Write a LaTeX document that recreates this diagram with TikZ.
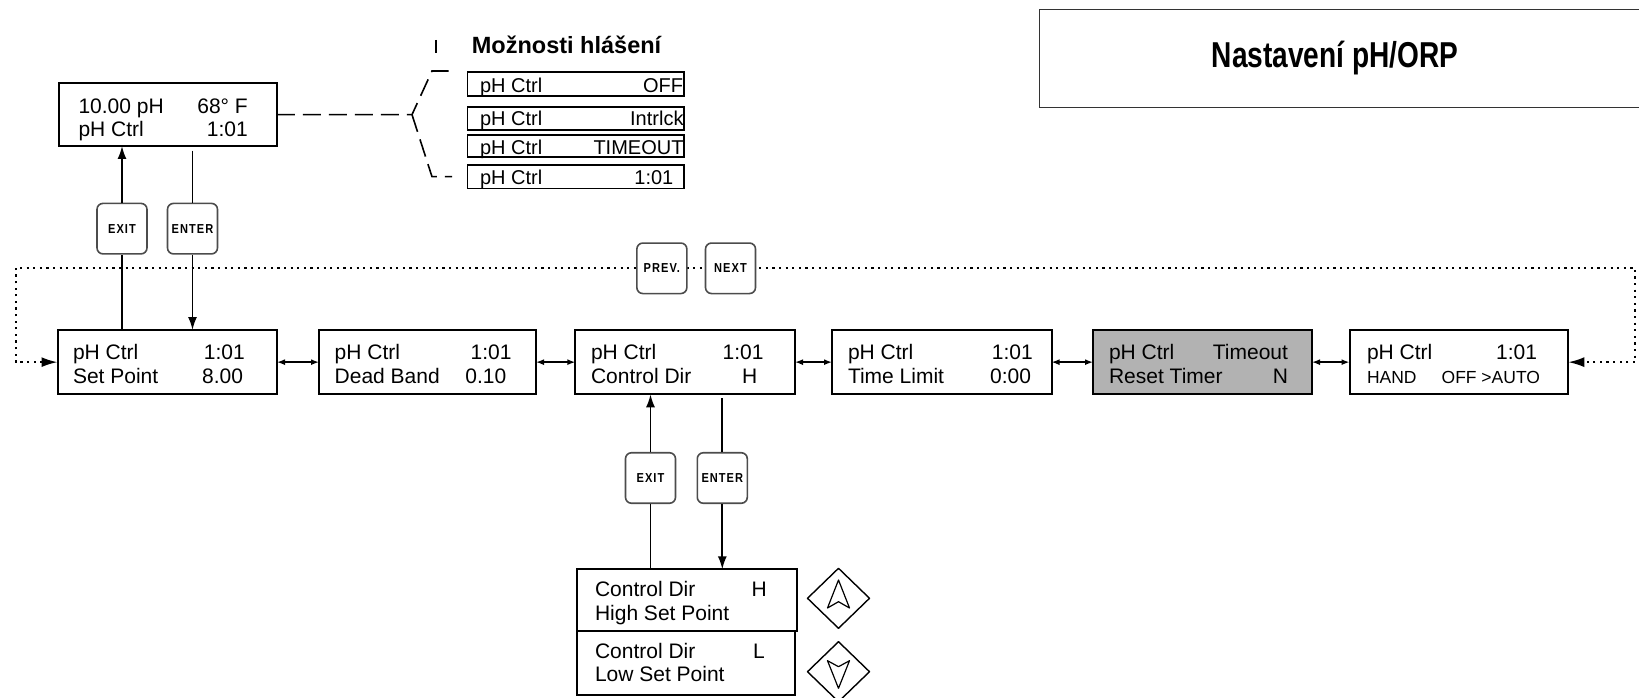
\documentclass[tikz,border=0pt]{standalone}
\usepackage{fontspec}
\setmainfont{Liberation Sans}
\newfontfamily\btnfam[LetterSpace=8,FakeStretch=0.85]{Liberation Sans}
\newfontfamily\titlefam[FakeStretch=0.78]{Liberation Sans}
\usetikzlibrary{arrows.meta}
\newcommand\btnfont{\btnfam\bfseries\fontsize{13}{13}\selectfont}
\newcommand\lcdfont{\fontsize{21}{24}\selectfont}
\newcommand\msgfont{\fontsize{20}{22}\selectfont}
\newcommand\smallfont{\fontsize{17.5}{20}\selectfont}
\definecolor{boxgray}{RGB}{178,178,178}
\begin{document}
\begin{tikzpicture}[x=1pt,y=-1pt,
  lcd/.style={draw=black, line width=2pt, inner sep=0pt, outer sep=0pt, minimum height=64.3pt},
  msgbox/.style={draw=black, line width=1.6pt, inner sep=0pt, outer sep=0pt, minimum width=216.7pt},
  btn/.style={draw=black!70, line width=1.6pt, rounded corners=6pt, fill=white, minimum width=50pt, minimum height=50.5pt, inner sep=0pt, font=\btnfont},
  txt/.style={inner sep=0pt, outer sep=0pt, font=\lcdfont, anchor=base west},
  txtr/.style={txt, anchor=base east},
  mtxt/.style={inner sep=0pt, outer sep=0pt, font=\msgfont, anchor=base west},
  mtxtr/.style={mtxt, anchor=base east},
  conn/.style={line width=1.7pt},
  arr/.style={conn, -{Latex[length=13pt,width=9pt]}},
  dbl/.style={line width=1.5pt, {Latex[length=8pt,width=6pt]}-{Latex[length=8pt,width=6pt]}},
  loopline/.style={line width=1.8pt, dash pattern=on 2.2pt off 4.4pt, {Latex[length=16pt,width=10pt]}-{Latex[length=16pt,width=10pt]}},
  dashline/.style={line width=1.6pt, dash pattern=on 18pt off 8pt},
  keyshape/.style={line width=1.4pt, line join=round}
]
\useasboundingbox (0,0) rectangle (1639,698);

% title
\node[draw=black!80, line width=1.5pt, minimum width=602.5pt, minimum height=98.4pt, inner sep=0pt] (title) at (1340.75,58.5) {};
\node[inner sep=0pt, font=\titlefam\bfseries\fontsize{36}{40}\selectfont] (titletext) at (1335,58) {Nastavení pH/ORP};

% top-left display
\node[lcd, minimum width=217.5pt, minimum height=62.7pt] (top) at (168,114.65) {};
\node[txt] (top1a) at (78.5,114) {10.00 pH};
\node[txtr] (top1b) at (247.8,114) {68° F};
\node[txt] (top2a) at (78.5,137) {pH Ctrl};
\node[txtr] (top2b) at (247.8,137) {1:01};

% message options
\draw[line width=1.3pt] (436,40) -- (436,53.3);
\node[anchor=base west, inner sep=0pt, font=\bfseries\fontsize{23.5}{26}\selectfont] (msgtitle) at (471.7,53.3) {Možnosti hlášení};
\node[msgbox, minimum height=23.7pt] (m1) at (575.65,84.15) {};
\node[msgbox, minimum height=22.7pt] (m2) at (575.65,118.65) {};
\node[msgbox, minimum height=22.3pt] (m3) at (575.65,146.15) {};
\node[msgbox, minimum height=23.3pt] (m4) at (575.65,176.65) {};
\node[mtxt] (m1a) at (480,92.7) {pH Ctrl};
\node[mtxtr] (m1b) at (683,92.7) {OFF};
\node[mtxt] (m2a) at (480,126) {pH Ctrl};
\node[mtxtr] (m2b) at (683.5,126) {Intrlck};
\node[mtxt] (m3a) at (480,155) {pH Ctrl};
\node[mtxtr] (m3b) at (683.5,155) {TIMEOUT};
\node[mtxt] (m4a) at (480,185) {pH Ctrl};
\node[mtxtr] (m4b) at (673.3,185) {1:01};

\coordinate (brk) at (412,114.65);
\coordinate (brTa) at (432,71);
\coordinate (brTb) at (452,71);
\coordinate (brBa) at (432,176.7);
\coordinate (brBb) at (452,176.7);
\draw[dashline] (top.east) -- (brk) -- (brTa) -- (brTb);
\draw[dashline] (brk) -- (brBa) -- (brBb);

% main row
\node[lcd, minimum width=219.5pt] (b1) at (167.25,362.15) {};
\node[lcd, minimum width=217pt] (b2) at (427.5,362.15) {};
\node[lcd, minimum width=219.7pt] (b3) at (685.15,362.15) {};
\node[lcd, minimum width=219.5pt] (b4) at (941.75,362.15) {};
\node[lcd, minimum width=219pt, fill=boxgray] (b5) at (1202.5,362.15) {};
\node[lcd, minimum width=218.8pt] (b6) at (1458.9,362.15) {};

\node[txt] (b1a) at (73,359.3) {pH Ctrl};
\node[txtr] (b1b) at (244.8,359.3) {1:01};
\node[txt] (b1c) at (73,383.3) {Set Point};
\node[txtr] (b1d) at (243,383.3) {8.00};

\node[txt] (b2a) at (334.7,359.3) {pH Ctrl};
\node[txtr] (b2b) at (511.5,359.3) {1:01};
\node[txt] (b2c) at (334.7,383.3) {Dead Band};
\node[txtr] (b2d) at (506.3,383.3) {0.10};

\node[txt] (b3a) at (591,359.3) {pH Ctrl};
\node[txtr] (b3b) at (763.6,359.3) {1:01};
\node[txt] (b3c) at (591,383.3) {Control Dir};
\node[txtr] (b3d) at (757.3,383.3) {H};

\node[txt] (b4a) at (848,359.3) {pH Ctrl};
\node[txtr] (b4b) at (1032.7,359.3) {1:01};
\node[txt] (b4c) at (848,383.3) {Time Limit};
\node[txtr] (b4d) at (1031,383.3) {0:00};

\node[txt] (b5a) at (1109,359.3) {pH Ctrl};
\node[txtr] (b5b) at (1288,359.3) {Timeout};
\node[txt] (b5c) at (1109,383.3) {Reset Timer};
\node[txtr] (b5d) at (1288,383.3) {N};

\node[txt] (b6a) at (1367,359.3) {pH Ctrl};
\node[txtr] (b6b) at (1537,359.3) {1:01};
\node[txt, font=\smallfont] (b6c) at (1367,383.3) {HAND};
\node[txtr, font=\smallfont] (b6d) at (1540,383.3) {OFF >AUTO};

\draw[dbl] (b1.east) -- (b2.west);
\draw[dbl] (b2.east) -- (b3.west);
\draw[dbl] (b3.east) -- (b4.west);
\draw[dbl] (b4.east) -- (b5.west);
\draw[dbl] (b5.east) -- (b6.west);

% loop
\coordinate (lpA) at (15.7,362.15);
\coordinate (lpB) at (15.7,267.8);
\coordinate (lpC) at (1635,267.8);
\coordinate (lpD) at (1635,362.15);
\draw[loopline] (b1.west) -- (lpA) -- (lpB) -- (lpC) -- (lpD) -- (b6.east);

% buttons
\node[btn] (exit1) at (122,228.65) {EXIT};
\node[btn] (enter1) at (192.5,228.65) {ENTER};
\node[btn] (prev) at (661.85,268.3) {PREV.};
\node[btn] (next) at (730.5,268.3) {NEXT};
\node[btn] (exit2) at (650.5,478) {EXIT};
\node[btn] (enter2) at (722.3,478) {ENTER};

\draw[conn] (b1.north -| exit1.south) -- (exit1.south);
\draw[arr] (exit1.north) -- (top.south -| exit1.north);
\draw[conn] (top.south -| enter1.north) ++(0,4.7) -- (enter1.north);
\draw[arr] (enter1.south) -- (b1.north -| enter1.south);

% lower boxes
\node[lcd, minimum width=220pt, minimum height=61.4pt] (hi) at (686.7,600) {};
\node[lcd, minimum width=218.3pt, minimum height=64.3pt] (lo) at (685.85,662.85) {};
\node[txt] (hia) at (595,596.7) {Control Dir};
\node[txt] (hib) at (751.7,596.7) {H};
\node[txt] (hic) at (595,620.7) {High Set Point};
\node[txt] (loa) at (595,658) {Control Dir};
\node[txt] (lob) at (753,658) {L};
\node[txt] (loc) at (595,681.7) {Low Set Point};

\draw[arr] (exit2.north) -- (b3.south -| exit2.north);
\draw[conn] (hi.north -| exit2.south) -- (exit2.south);
\draw[conn] (b3.south -| enter2.north) ++(0,4) -- (enter2.north);
\draw[arr] (enter2.south) -- (hi.north -| enter2.south);

% up / down keys
\draw[keyshape] (807.5,598.3) -- (838.5,568.3) -- (869.5,598.3) -- (838.5,628.3) -- cycle;
\draw[keyshape, line width=1.2pt] (838.5,580) -- (849.5,608) -- (838.5,601.7) -- (827.5,608) -- cycle;
\draw[keyshape] (807.5,671.7) -- (838.5,641.7) -- (869.5,671.7) -- (838.5,701.7) -- cycle;
\draw[keyshape, line width=1.2pt] (838.5,688.3) -- (849.5,660.7) -- (838.5,666.7) -- (827.5,660.7) -- cycle;
\end{tikzpicture}
\end{document}
